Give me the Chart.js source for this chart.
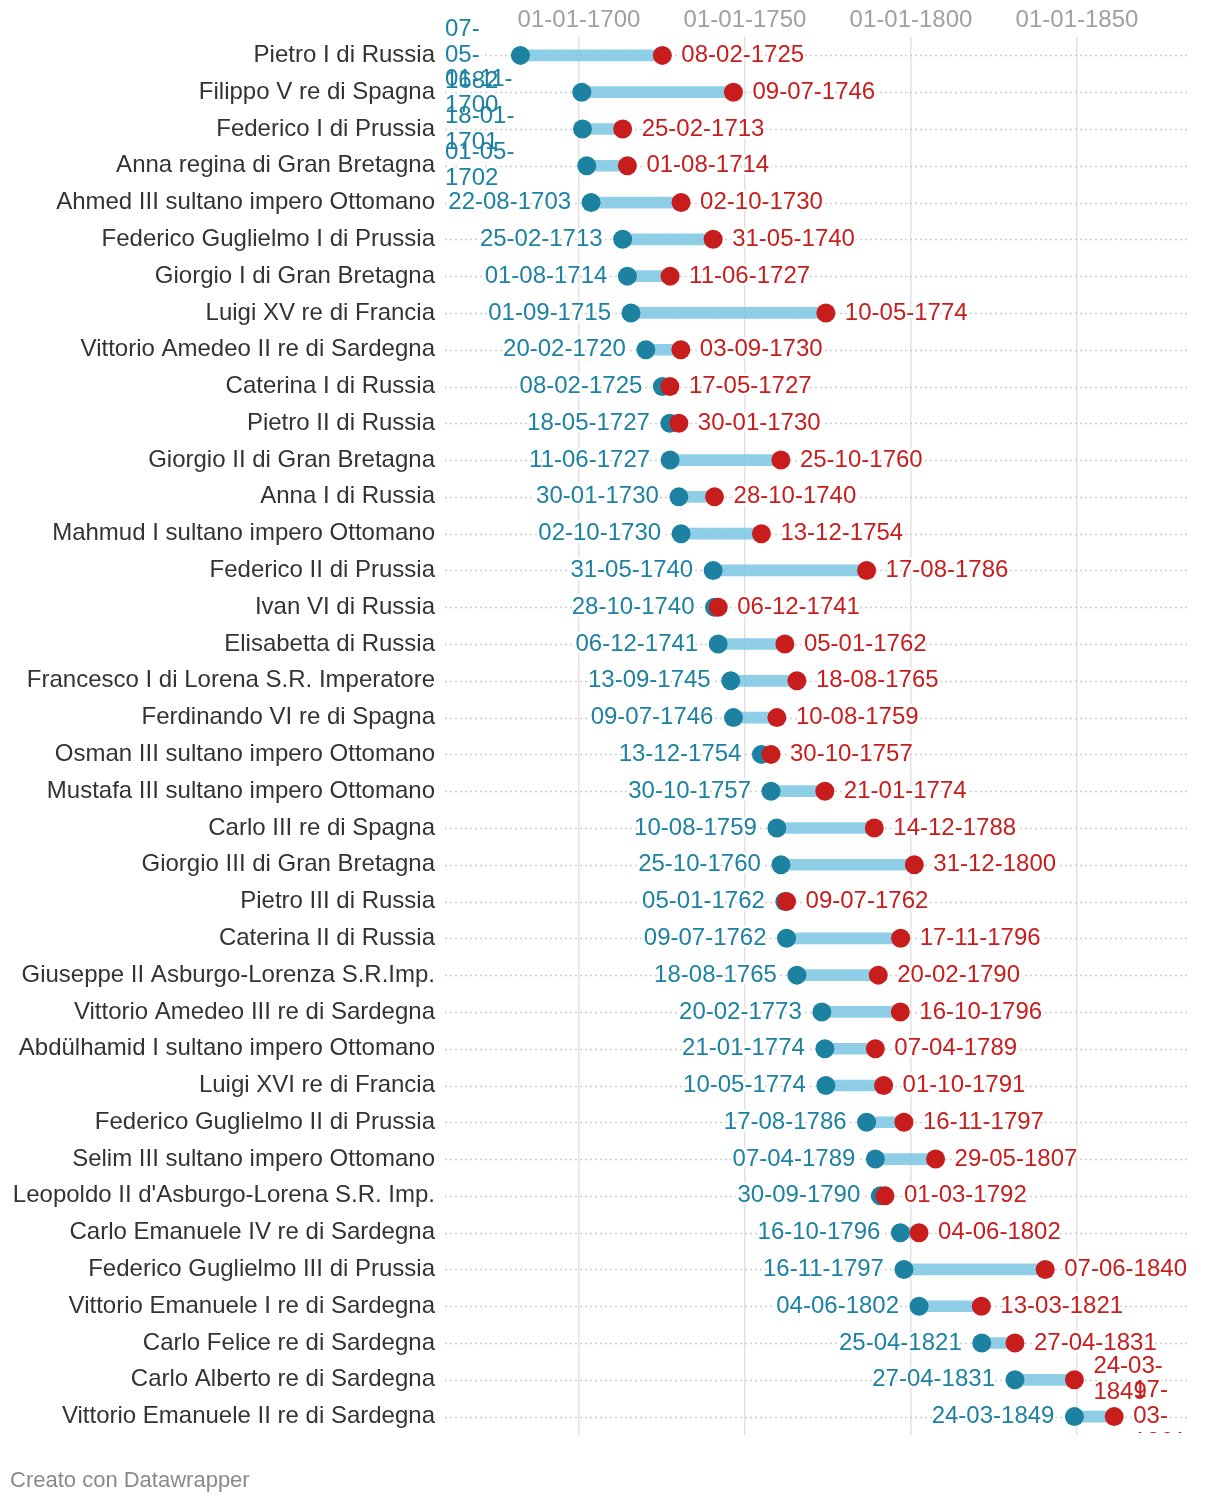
<!DOCTYPE html>
<html>
<head>
<meta charset="utf-8">
<script src="https://cdn.jsdelivr.net/npm/chart.js@4/dist/chart.umd.min.js"></script>
<style>
  html, body { margin: 0; padding: 0; background: #fff; }
  #wrap { position: relative; width: 1220px; height: 1504px; }
  #footer { position: absolute; left: 10px; top: 1467px; font: 22px "Liberation Sans", Arial, sans-serif; color: #8a8a8a; }
</style>
</head>
<body>
<div id="wrap">
  <canvas id="c" width="1220" height="1504"></canvas>
  <div id="footer">Creato con Datawrapper</div>
</div>
<script>
const sovereigns = [
  "Pietro I di Russia",
  "Filippo V re di Spagna",
  "Federico I di Prussia",
  "Anna regina di Gran Bretagna",
  "Ahmed III sultano impero Ottomano",
  "Federico Guglielmo I di Prussia",
  "Giorgio I di Gran Bretagna",
  "Luigi XV re di Francia",
  "Vittorio Amedeo II re di Sardegna",
  "Caterina I di Russia",
  "Pietro II di Russia",
  "Giorgio II di Gran Bretagna",
  "Anna I di Russia",
  "Mahmud I sultano impero Ottomano",
  "Federico II di Prussia",
  "Ivan VI di Russia",
  "Elisabetta di Russia",
  "Francesco I di Lorena S.R. Imperatore",
  "Ferdinando VI re di Spagna",
  "Osman III sultano impero Ottomano",
  "Mustafa III sultano impero Ottomano",
  "Carlo III re di Spagna",
  "Giorgio III di Gran Bretagna",
  "Pietro III di Russia",
  "Caterina II di Russia",
  "Giuseppe II Asburgo-Lorenza S.R.Imp.",
  "Vittorio Amedeo III re di Sardegna",
  "Abdülhamid I sultano impero Ottomano",
  "Luigi XVI re di Francia",
  "Federico Guglielmo II di Prussia",
  "Selim III sultano impero Ottomano",
  "Leopoldo II d'Asburgo-Lorena S.R. Imp.",
  "Carlo Emanuele IV re di Sardegna",
  "Federico Guglielmo III di Prussia",
  "Vittorio Emanuele I re di Sardegna",
  "Carlo Felice re di Sardegna",
  "Carlo Alberto re di Sardegna",
  "Vittorio Emanuele II re di Sardegna"
];
const reignStart = [
  "07-05-1682","01-11-1700","18-01-1701","01-05-1702","22-08-1703","25-02-1713","01-08-1714",
  "01-09-1715","20-02-1720","08-02-1725","18-05-1727","11-06-1727","30-01-1730","02-10-1730",
  "31-05-1740","28-10-1740","06-12-1741","13-09-1745","09-07-1746","13-12-1754","30-10-1757",
  "10-08-1759","25-10-1760","05-01-1762","09-07-1762","18-08-1765","20-02-1773","21-01-1774",
  "10-05-1774","17-08-1786","07-04-1789","30-09-1790","16-10-1796","16-11-1797","04-06-1802",
  "25-04-1821","27-04-1831","24-03-1849"
];
const reignEnd = [
  "08-02-1725","09-07-1746","25-02-1713","01-08-1714","02-10-1730","31-05-1740","11-06-1727",
  "10-05-1774","03-09-1730","17-05-1727","30-01-1730","25-10-1760","28-10-1740","13-12-1754",
  "17-08-1786","06-12-1741","05-01-1762","18-08-1765","10-08-1759","30-10-1757","21-01-1774",
  "14-12-1788","31-12-1800","09-07-1762","17-11-1796","20-02-1790","16-10-1796","07-04-1789",
  "01-10-1791","16-11-1797","29-05-1807","01-03-1792","04-06-1802","07-06-1840","13-03-1821",
  "27-04-1831","24-03-1849","17-03-1861"
];
const tickYears = [1700, 1750, 1800, 1850];

function toYear(s) {
  const [d, m, y] = s.split('-').map(Number);
  const t0 = Date.UTC(y, 0, 1), t1 = Date.UTC(y + 1, 0, 1);
  return y + (Date.UTC(y, m - 1, d) - t0) / (t1 - t0);
}
const startVals = reignStart.map(toYear);
const endVals = reignEnd.map(toYear);

const FONT = '"Liberation Sans", Arial, sans-serif';
const BLUE = '#1d81a2', RED = '#c71e1d';
const LABEL_RIGHT_LIMIT = 1195;

function wrapText(ctx, text, maxW) {
  const tokens = text.match(/[^-]+-?/g);
  const lines = [];
  let cur = '';
  tokens.forEach(t => {
    const test = cur + t;
    if (cur && ctx.measureText(test).width > maxW) { lines.push(cur); cur = t; }
    else cur = test;
  });
  if (cur) lines.push(cur);
  return lines;
}

const rowLines = {
  id: 'rowLines',
  beforeDatasetsDraw(chart) {
    const { ctx, chartArea, scales } = chart;
    ctx.save();
    ctx.strokeStyle = '#cfcfcf';
    ctx.lineWidth = 1.5;
    ctx.setLineDash([2, 3]);
    sovereigns.forEach((_, i) => {
      const y = Math.round(scales.y.getPixelForValue(i)) + 0.5;
      ctx.beginPath();
      ctx.moveTo(chartArea.left, y);
      ctx.lineTo(chartArea.right, y);
      ctx.stroke();
    });
    ctx.restore();
  }
};

const valueLabels = {
  id: 'valueLabels',
  afterDatasetsDraw(chart) {
    const { ctx, chartArea, scales } = chart;
    ctx.save();
    ctx.beginPath();
    ctx.rect(0, 0, chart.width, chartArea.bottom - 2);
    ctx.clip();
    ctx.font = '24px ' + FONT;
    ctx.textBaseline = 'middle';
    ctx.lineJoin = 'round';
    const LH = 26;
    const blocks = [];
    sovereigns.forEach((_, i) => {
      const y = scales.y.getPixelForValue(i);
      const xs = scales.x.getPixelForValue(startVals[i]);
      const xe = scales.x.getPixelForValue(endVals[i]);
      const sTxt = reignStart[i];
      const sAvail = xs - 20 - chartArea.left;
      if (ctx.measureText(sTxt).width <= sAvail) {
        blocks.push({ lines: [sTxt], x: xs - 20, y, align: 'right', color: BLUE });
      } else {
        blocks.push({ lines: wrapText(ctx, sTxt, sAvail), x: chartArea.left, y, align: 'left', color: BLUE });
      }
      const eTxt = reignEnd[i];
      const ex = xe + 19;
      const eAvail = LABEL_RIGHT_LIMIT - ex;
      const eLines = ctx.measureText(eTxt).width <= eAvail ? [eTxt] : wrapText(ctx, eTxt, eAvail);
      blocks.push({ lines: eLines, x: ex, y, align: 'left', color: RED });
    });
    // halos first (hide dotted lines), then all texts
    ctx.strokeStyle = '#fff';
    ctx.lineWidth = 5;
    blocks.forEach(b => {
      ctx.textAlign = b.align;
      const y0 = b.y - (b.lines.length - 1) * LH / 2;
      b.lines.forEach((ln, k) => ctx.strokeText(ln, b.x, y0 + k * LH));
    });
    blocks.forEach(b => {
      ctx.textAlign = b.align;
      ctx.fillStyle = b.color;
      const y0 = b.y - (b.lines.length - 1) * LH / 2;
      b.lines.forEach((ln, k) => ctx.fillText(ln, b.x, y0 + k * LH));
    });
    ctx.restore();
  }
};

// pixel anchors: chart area 445..1188, 1700 -> 579, 1850 -> 1077
const AREA_L = 445, AREA_R = 1188, PX1700 = 579, PX1850 = 1077;
const pxPerYear = (PX1850 - PX1700) / 150;
const xMin = 1700 - (PX1700 - AREA_L) / pxPerYear;
const xMax = 1700 + (AREA_R - PX1700) / pxPerYear;

new Chart(document.getElementById('c'), {
  type: 'bar',
  data: {
    labels: sovereigns,
    datasets: [
      {
        type: 'bar',
        data: startVals.map((s, i) => [s, endVals[i]]),
        backgroundColor: 'rgba(122,198,227,0.85)',
        borderWidth: 0,
        barThickness: 11,
        order: 3
      },
      {
        type: 'line',
        data: startVals,
        showLine: false,
        pointRadius: 9.5,
        pointHoverRadius: 9.5,
        pointBackgroundColor: BLUE,
        pointBorderWidth: 0,
        clip: false,
        order: 2
      },
      {
        type: 'line',
        data: endVals,
        showLine: false,
        pointRadius: 9.5,
        pointHoverRadius: 9.5,
        pointBackgroundColor: RED,
        pointBorderWidth: 0,
        clip: false,
        order: 1
      }
    ]
  },
  options: {
    indexAxis: 'y',
    responsive: false,
    animation: false,
    events: [],
    layout: { padding: { left: 0, right: 1220 - AREA_R, top: 0, bottom: 1504 - 1435 } },
    plugins: { legend: { display: false }, tooltip: { enabled: false } },
    scales: {
      x: {
        type: 'linear',
        position: 'top',
        min: xMin,
        max: xMax,
        afterBuildTicks(scale) { scale.ticks = tickYears.map(v => ({ value: v })); },
        afterFit(scale) { scale.height = 37; },
        ticks: {
          callback: v => '01-01-' + v,
          color: '#a0a0a0',
          font: { family: FONT, size: 24 },
          padding: 2,
          maxRotation: 0,
          autoSkip: false
        },
        grid: { color: '#e2e2e2', lineWidth: 1.5, drawTicks: false },
        border: { display: false }
      },
      y: {
        afterFit(scale) { scale.width = AREA_L; },
        ticks: {
          color: '#333333',
          font: { family: FONT, size: 24 },
          padding: 10,
          autoSkip: false
        },
        grid: { display: false, drawTicks: false },
        border: { display: false }
      }
    }
  },
  plugins: [rowLines, valueLabels]
});
</script>
</body>
</html>
